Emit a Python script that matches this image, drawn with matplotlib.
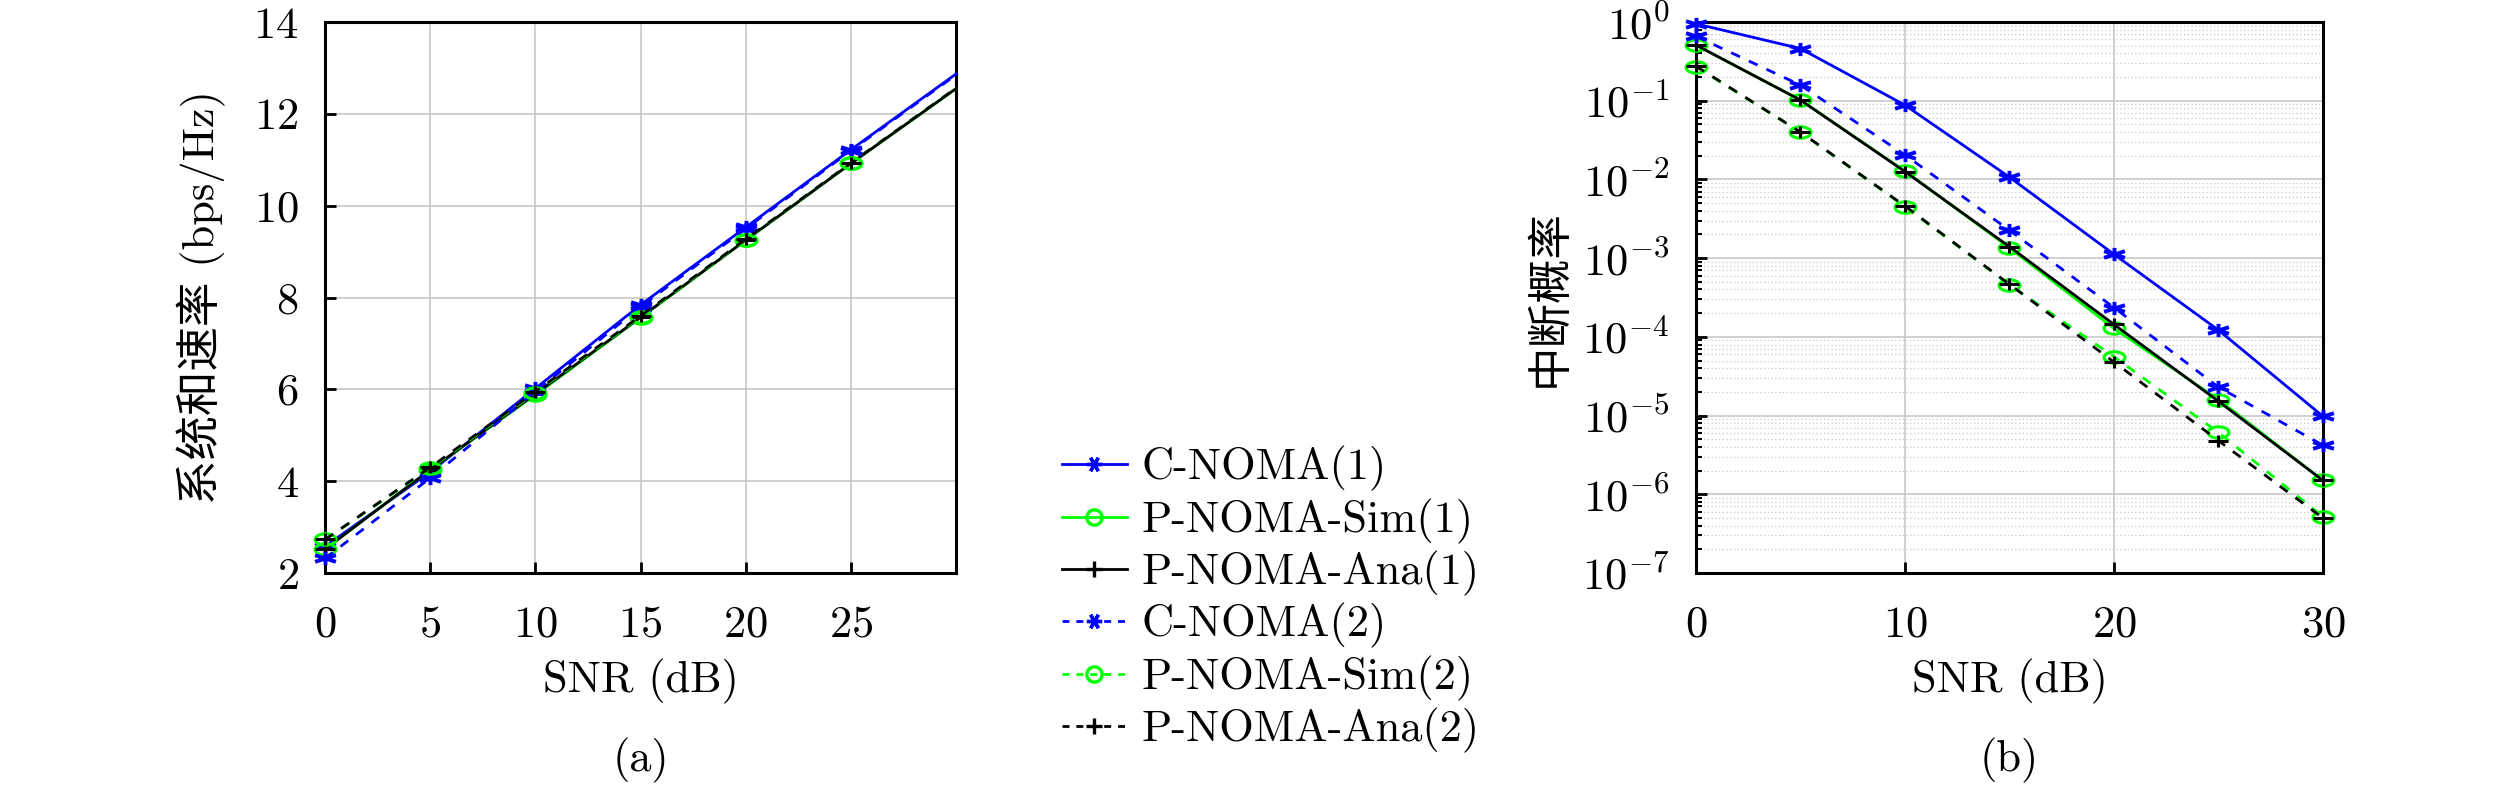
import matplotlib
matplotlib.use('Agg')
import matplotlib.pyplot as plt
import numpy as np
from matplotlib.path import Path
from matplotlib.lines import Line2D
from matplotlib.ticker import LogLocator, NullFormatter

plt.rcParams['font.family'] = ['cmr10', 'Noto Sans CJK SC']
plt.rcParams['mathtext.fontset'] = 'cm'
plt.rcParams['axes.unicode_minus'] = False
plt.rcParams['axes.formatter.use_mathtext'] = True

# ---------------- data ----------------
snr = [0, 5, 10, 15, 20, 25, 30]

# (a) system sum rate (bps/Hz)
rate_c1 = [2.58, 4.20, 6.02, 7.84, 9.53, 11.22, 12.87]
rate_sim1 = [2.52, 4.25, 5.88, 7.56, 9.25, 10.92, 12.55]
rate_ana1 = [2.52, 4.25, 5.90, 7.57, 9.25, 10.92, 12.55]
rate_c2 = [2.32, 4.07, 5.95, 7.80, 9.50, 11.20, 12.85]
rate_sim2 = [2.73, 4.28, 5.93, 7.58, 9.26, 10.93, 12.56]
rate_ana2 = [2.73, 4.30, 5.95, 7.60, 9.27, 10.93, 12.56]

# (b) outage probability
out_c1 = [0.95, 0.46, 0.088, 0.0107, 1.12e-3, 1.22e-4, 9.8e-6]
out_sim1 = [0.51, 0.102, 0.0128, 1.35e-3, 1.28e-4, 1.6e-5, 1.5e-6]
out_ana1 = [0.51, 0.102, 0.0126, 1.40e-3, 1.44e-4, 1.52e-5, 1.5e-6]
out_c2 = [0.66, 0.158, 0.0205, 2.26e-3, 2.36e-4, 2.3e-5, 4.2e-6]
out_sim2 = [0.27, 0.040, 4.5e-3, 4.6e-4, 5.6e-5, 6.1e-6, 5.2e-7]
out_ana2 = [0.275, 0.040, 4.6e-3, 4.65e-4, 4.8e-5, 4.8e-6, 5.0e-7]

labels = ['C-NOMA(1)', 'P-NOMA-Sim(1)', 'P-NOMA-Ana(1)',
          'C-NOMA(2)', 'P-NOMA-Sim(2)', 'P-NOMA-Ana(2)']

blue = (0, 0, 1)
green = (0, 1, 0)
black = (0, 0, 0)


# squashed markers (the plot markers look flattened in the reference)
def asterisk(sq):
    verts, codes = [], []
    for ang in [90, 30, 150]:
        a = np.deg2rad(ang)
        verts += [(-np.cos(a), -np.sin(a) * sq), (np.cos(a), np.sin(a) * sq)]
        codes += [Path.MOVETO, Path.LINETO]
    return Path(verts, codes)


def plus(sq):
    return Path([(-1, 0), (1, 0), (0, -sq), (0, sq)],
                [Path.MOVETO, Path.LINETO, Path.MOVETO, Path.LINETO])


def ellipse(sq):
    c = Path.unit_circle()
    return Path(c.vertices * [1.0, sq], c.codes)


SQ = 0.55
DASH = (0, (3.5, 3.5))
styles = [
    dict(color=blue, ls='-', marker=asterisk(SQ), ms=15, mew=2.8, mfc='none'),
    dict(color=green, ls='-', marker=ellipse(SQ), ms=15, mew=2.2, mfc='none'),
    dict(color=black, ls='-', marker=plus(SQ), ms=15, mew=2.2, mfc='none'),
    dict(color=blue, ls=DASH, marker=asterisk(SQ), ms=15, mew=2.8, mfc='none'),
    dict(color=green, ls=DASH, marker=ellipse(SQ), ms=15, mew=2.2, mfc='none'),
    dict(color=black, ls=DASH, marker=plus(SQ), ms=15, mew=2.2, mfc='none'),
]

FS = 32

fig = plt.figure(figsize=(25.2, 7.87), dpi=100)
ax1 = fig.add_axes([0.1290, 0.2719, 0.2504, 0.7001])
ax2 = fig.add_axes([0.6730, 0.2719, 0.2488, 0.7001])

rates = [rate_c1, rate_sim1, rate_ana1, rate_c2, rate_sim2, rate_ana2]
outs = [out_c1, out_sim1, out_ana1, out_c2, out_sim2, out_ana2]

for r, st in zip(rates, styles):
    ax1.plot(snr, r, lw=2, markevery=slice(0, 6), clip_on=False, zorder=3, **st)
for o, st in zip(outs, styles):
    ax2.plot(snr, o, lw=2, clip_on=False, zorder=3, **st)

for ax in (ax1, ax2):
    for s in ax.spines.values():
        s.set_linewidth(2.2)
    ax.tick_params(which='major', direction='in', length=8, width=2,
                   labelsize=FS, top=False, right=False)
    ax.tick_params(axis='x', pad=23)
    ax.tick_params(axis='y', pad=19)
    ax.set_axisbelow(True)
    ax.grid(True, which='major', color='#c8c8c8', lw=1.2, ls='-')
    ax.set_xlabel('SNR (dB)', fontsize=FS, labelpad=10)

ax1.set_xlim(0, 30)
ax1.set_ylim(2, 14)
ax1.set_xticks([0, 5, 10, 15, 20, 25])
ax1.set_yticks([2, 4, 6, 8, 10, 12, 14])
ax1.set_ylabel('系统和速率 (bps/Hz)', fontsize=FS, labelpad=20)

ax2.set_yscale('log')
ax2.set_xlim(0, 30)
ax2.set_ylim(1e-7, 1)
ax2.set_xticks([0, 10, 20, 30])
ax2.yaxis.set_major_locator(LogLocator(base=10, numticks=10))
ax2.yaxis.set_minor_locator(LogLocator(base=10, subs=np.arange(2, 10), numticks=10))
ax2.yaxis.set_minor_formatter(NullFormatter())
ax2.tick_params(which='minor', direction='in', length=4.5, width=1.5, right=False)
ax2.grid(True, which='minor', axis='y', color='#c8c8c8', lw=0.9, ls=(0, (1, 2)))
ax2.set_ylabel('中断概率', fontsize=FS, labelpad=8)

fig.text(0.2542, 0.034, '(a)', fontsize=FS, ha='center', va='center')
fig.text(0.7974, 0.034, '(b)', fontsize=FS, ha='center', va='center')

# legend proxies with round markers, as in the reference legend
leg_markers = [(6, 2, 90), 'o', '+', (6, 2, 90), 'o', '+']
handles = []
for st, mk in zip(styles, leg_markers):
    handles.append(Line2D([], [], color=st['color'], ls=st['ls'] if st['ls'] == '-' else (0, (2.5, 2.5)),
                          lw=2, marker=mk, ms=11, mew=2.4, mfc='none'))
fig.legend(handles, labels, loc='center left', bbox_to_anchor=(0.4144, 0.238),
           frameon=False, fontsize=FS, handlelength=1.45, handletextpad=0.33,
           labelspacing=0.16, borderaxespad=0)

fig.savefig('out.png', dpi=100)
